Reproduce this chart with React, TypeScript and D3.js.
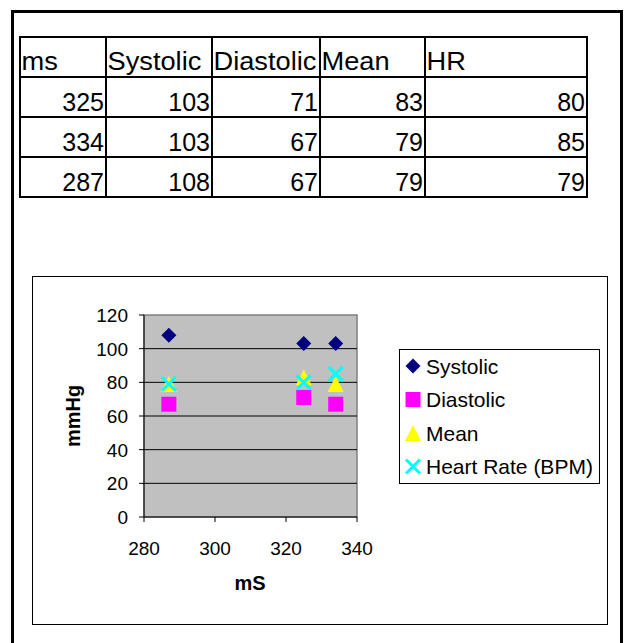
import React from "react";
import * as d3 from "d3";

const headers = ["ms", "Systolic", "Diastolic", "Mean", "HR"];
const msValues = [325, 334, 287];
const systolic = [103, 103, 108];
const diastolic = [71, 67, 67];
const meanVals = [83, 79, 79];
const hrVals = [80, 85, 79];
const yTicks = [0, 20, 40, 60, 80, 100, 120];
const xTicks = [280, 300, 320, 340];
const seriesNames = ["Systolic", "Diastolic", "Mean", "Heart Rate (BPM)"];

const FONT = "'Liberation Sans', Arial, sans-serif";

const colX = [20, 106, 212, 320, 425, 587];
const rowY = [37, 77, 117, 157, 197];

function Marker({ kind, x, y }: { kind: number; x: number; y: number }) {
  if (kind === 0) {
    const s = 7.5;
    return <path d={`M${x},${y - s}L${x + s},${y}L${x},${y + s}L${x - s},${y}Z`} fill="#000080" />;
  }
  if (kind === 1) {
    const s = 7.5;
    return <rect x={x - s} y={y - s} width={2 * s} height={2 * s} fill="#FF00FF" />;
  }
  if (kind === 2) {
    const s = 8;
    return <path d={`M${x},${y - s}L${x + s},${y + s}L${x - s},${y + s}Z`} fill="#FFFF00" />;
  }
  const s = 7;
  return (
    <path d={`M${x - s},${y - s}L${x + s},${y + s}M${x + s},${y - s}L${x - s},${y + s}`} stroke="#00FFFF" strokeWidth={3} fill="none" />
  );
}

export default function App() {
  const x = d3.scaleLinear().domain([280, 340]).range([144, 357]);
  const y = d3.scaleLinear().domain([0, 120]).range([517, 315]);
  const series = [systolic, diastolic, meanVals, hrVals];
  const rows = msValues.map((m, i) => [m, systolic[i], diastolic[i], meanVals[i], hrVals[i]]);

  return (
    <svg width={625} height={643} style={{ position: "absolute", left: 0, top: 0, background: "#fff" }} fontFamily={FONT}>
      <rect x={0} y={0} width={625} height={643} fill="#fff" />
      {/* outer frame */}
      <path d="M12.5,650V11.5H621.5V650" fill="none" stroke="#000" strokeWidth={3} />

      {/* table */}
      {rowY.map((ry, i) => (
        <line key={"r" + i} x1={colX[0]} x2={colX[colX.length - 1]} y1={ry} y2={ry} stroke="#000" strokeWidth={2} />
      ))}
      {colX.map((cx, i) => (
        <line key={"c" + i} x1={cx} x2={cx} y1={rowY[0] - 1} y2={rowY[rowY.length - 1] + 1} stroke="#000" strokeWidth={2} />
      ))}
      {headers.map((h, i) => (
        <text key={"h" + i} transform={`translate(${colX[i] + 1.5},${rowY[0] + 33}) scale(1.09,1)`} fontSize={25} fill="#000">
          {h}
        </text>
      ))}
      {rows.map((r, ri) =>
        r.map((v, ci) => (
          <text key={`v${ri}-${ci}`} x={colX[ci + 1] - 2} y={rowY[ri + 1] + 34} fontSize={25} textAnchor="end" fill="#000">
            {v}
          </text>
        ))
      )}

      {/* chart box */}
      <rect x={32.5} y={276.5} width={575} height={348} fill="#fff" stroke="#000" strokeWidth={1} />

      {/* plot area */}
      <rect x={x(280)} y={y(120)} width={x(340) - x(280)} height={y(0) - y(120)} fill="#C0C0C0" stroke="#808080" strokeWidth={1.5} />
      {yTicks.filter((t) => t > 0 && t < 120).map((t) => (
        <line key={"g" + t} x1={x(280)} x2={x(340)} y1={y(t)} y2={y(t)} stroke="#000" strokeWidth={1} />
      ))}
      <line x1={x(280)} x2={x(280)} y1={y(120)} y2={y(0)} stroke="#000" strokeWidth={1} />
      <line x1={x(280)} x2={x(340)} y1={y(0)} y2={y(0)} stroke="#000" strokeWidth={1} />
      {yTicks.map((t) => (
        <g key={"yt" + t}>
          <line x1={x(280) - 5} x2={x(280)} y1={y(t)} y2={y(t)} stroke="#000" />
          <text x={x(280) - 16} y={y(t) + 7} fontSize={19} textAnchor="end" fill="#000">
            {t}
          </text>
        </g>
      ))}
      {xTicks.map((t) => (
        <g key={"xt" + t}>
          <line x1={x(t)} x2={x(t)} y1={y(0)} y2={y(0) + 5} stroke="#000" />
          <text x={x(t)} y={y(0) + 38} fontSize={19} textAnchor="middle" fill="#000">
            {t}
          </text>
        </g>
      ))}
      <text x={250} y={590} fontSize={20} fontWeight="bold" textAnchor="middle" fill="#000">
        mS
      </text>
      <text transform="translate(80,416) rotate(-90)" fontSize={20} fontWeight="bold" textAnchor="middle" fill="#000">
        mmHg
      </text>

      {/* markers */}
      {series.map((vals, si) =>
        vals.map((v, i) => <Marker key={`m${si}-${i}`} kind={si} x={x(msValues[i])} y={y(v)} />)
      )}

      {/* legend */}
      <rect x={399.5} y={349.5} width={200} height={134} fill="#fff" stroke="#000" strokeWidth={1} />
      {seriesNames.map((n, i) => {
        const ly = 366 + i * 33.5;
        return (
          <g key={"l" + i}>
            <Marker kind={i} x={413} y={ly} />
            <text x={426} y={ly + 7.5} fontSize={21} fill="#000">
              {n}
            </text>
          </g>
        );
      })}
    </svg>
  );
}
